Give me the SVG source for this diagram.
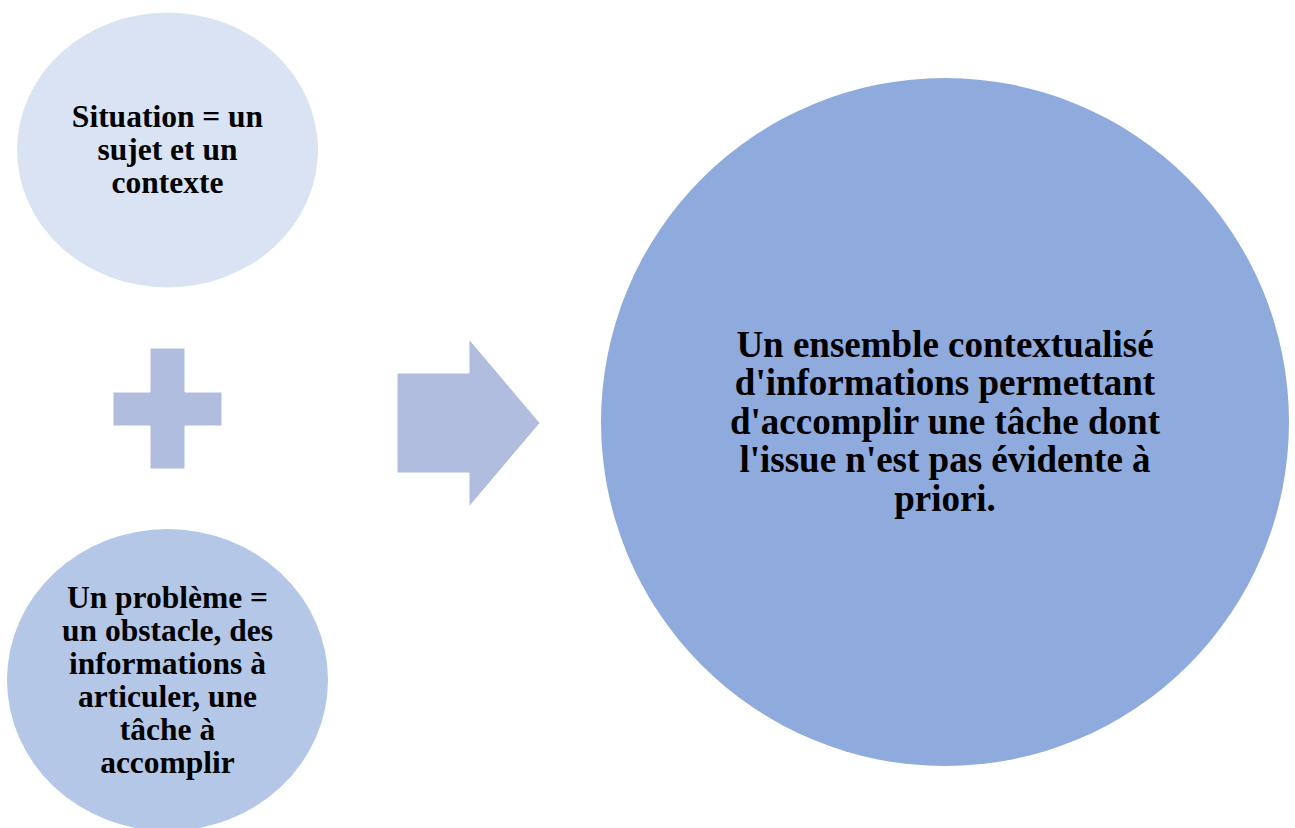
<svg xmlns="http://www.w3.org/2000/svg" width="1295" height="828" viewBox="0 0 1295 828">
<style>
.t{font-family:"Liberation Serif","Times New Roman",serif;font-weight:bold;fill:#000;text-anchor:middle}
.s{font-size:31.5px}
.b{font-size:37px}
.sym{fill:#B0BDDF;stroke:#ffffff;stroke-width:1}
</style>
<rect width="1295" height="828" fill="#ffffff"/>
<g id="situation">
<ellipse cx="167.5" cy="150" rx="150.5" ry="137.5" fill="#DAE3F3"/>
<text class="t s" x="167.5" y="127">Situation = un</text>
<text class="t s" x="167.5" y="160">sujet et un</text>
<text class="t s" x="167.5" y="193">contexte</text>
</g>
<g id="probleme">
<ellipse cx="167.5" cy="680" rx="160.5" ry="151" fill="#B4C7E7"/>
<text class="t s" x="167.5" y="608">Un problème =</text>
<text class="t s" x="167.5" y="641">un obstacle, des</text>
<text class="t s" x="167.5" y="674">informations à</text>
<text class="t s" x="167.5" y="707">articuler, une</text>
<text class="t s" x="167.5" y="740">tâche à</text>
<text class="t s" x="167.5" y="773">accomplir</text>
</g>
<g id="connectors">
<path id="plus" class="sym" d="M150,348 H185 V392 H222 V426 H185 V469 H150 V426 H113 V392 H150 Z"/>
<path id="arrow" class="sym" d="M397,373 H469 V339 L540,423 L469,507 V473 H397 Z"/>
</g>
<g id="resultat">
<circle cx="945" cy="422" r="344" fill="#8FAADC"/>
<text class="t b" x="945" y="356.5">Un ensemble contextualisé</text>
<text class="t b" x="945" y="395">d'informations permettant</text>
<text class="t b" x="945" y="433.5">d'accomplir une tâche dont</text>
<text class="t b" x="945" y="472">l'issue n'est pas évidente à</text>
<text class="t b" x="945" y="510.5">priori.</text>
</g>
</svg>
